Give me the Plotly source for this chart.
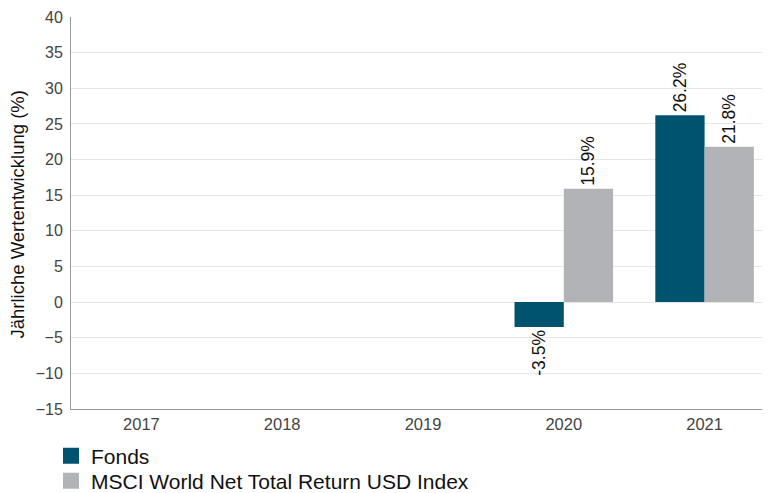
import plotly.graph_objects as go

years = ["2017", "2018", "2019", "2020", "2021"]
fonds = [None, None, None, -3.5, 26.2]
msci = [None, None, None, 15.9, 21.8]
fonds_name = "Fonds"
msci_name = "MSCI World Net Total Return USD Index"
y_title = "Jährliche Wertentwicklung (%)"
c_fonds = "#00536f"
c_msci = "#b2b3b7"

def labels(vals):
    return [None if v is None else f"{v:.1f}%" for v in vals]

# page has 8px default body margin -> figure is drawn at (8, 8)
W, H = 767, 485
L, R, T, B = 63, 0, 9, 84
PW, PH = W - L - R, H - T - B

fig = go.Figure()
for vals, nm, c in [(fonds, fonds_name, c_fonds), (msci, msci_name, c_msci)]:
    fig.add_trace(go.Bar(x=years, y=vals, name=nm, marker_color=c,
                         marker_line_width=0, text=labels(vals), textposition="outside",
                         textangle=-90, constraintext="none",
                         textfont=dict(size=17.5, color="#111"),
                         cliponaxis=False, showlegend=False))
# legend proxies, one legend each for exact placement
for nm, c, lg in [(fonds_name, c_fonds, "legend"), (msci_name, c_msci, "legend2")]:
    fig.add_trace(go.Scatter(x=[None], y=[None], mode="markers", name=nm, legend=lg,
                             marker=dict(symbol="square", size=21, color=c)))

leg = dict(xanchor="left", yanchor="middle",
           font=dict(size=21, color="#111"), itemsizing="trace",
           bgcolor="rgba(0,0,0,0)", borderwidth=0)

fig.update_layout(
    width=W, height=H,
    margin=dict(l=L, r=R, t=T, b=B, autoexpand=False),
    plot_bgcolor="white", paper_bgcolor="white",
    font=dict(family="Liberation Sans, Arial, sans-serif"),
    barmode="group", bargap=0.3, bargroupgap=0,
    legend=dict(leg, x=(43 - L) / PW, y=((H - B) - 448) / PH),
    legend2=dict(leg, x=(43 - L) / PW, y=((H - B) - 473) / PH),
    showlegend=True,
)
fig.add_annotation(text=y_title, xref="paper", yref="paper", x=0, y=0.5,
                   xanchor="center", yanchor="middle", xshift=-54.5, yshift=-2,
                   textangle=-90, showarrow=False,
                   font=dict(size=18.5, color="#111"))
fig.update_xaxes(showline=True, linecolor="#999", linewidth=1, ticks="",
                 tickfont=dict(size=16.5, color="#444"), showgrid=False,
                 automargin=False)
fig.update_yaxes(range=[-15, 40], dtick=5, showline=True, linecolor="#999",
                 linewidth=1, showgrid=True, gridcolor="#e6e6e6", zeroline=False,
                 tickfont=dict(size=16, color="#444"), ticks="", ticklabelstandoff=4,
                 automargin=False)

fig.write_html("out.html")
